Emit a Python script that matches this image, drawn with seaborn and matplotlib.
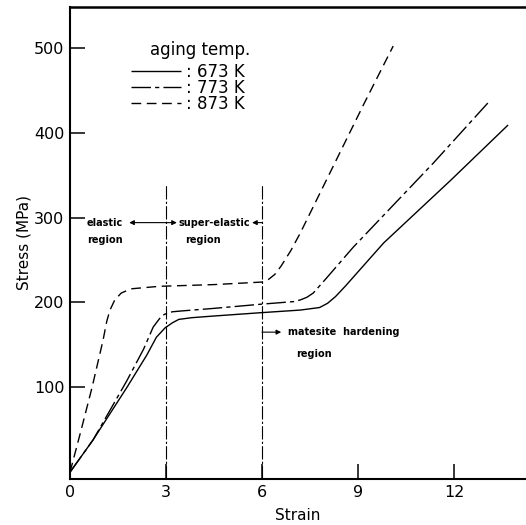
import pandas as pd
import seaborn as sns
import matplotlib.pyplot as plt
from matplotlib.lines import Line2D

# Stress-strain curves (strain %, stress MPa)
strain_673 = [0, 0.72, 1.78, 2.4, 2.7, 2.97, 3.2, 3.4, 3.8, 4.5, 6.0, 7.2, 7.8, 8.05, 8.3, 8.6, 9.8, 11.9, 13.69]
stress_673 = [0, 38, 100, 138, 159, 170, 176, 180, 182, 184, 188, 191, 194, 199, 207, 219, 270, 344, 409]

strain_773 = [0, 0.72, 1.78, 2.3, 2.6, 2.8, 2.95, 3.2, 3.5, 4.5, 6.0, 7.0, 7.2, 7.4, 7.6, 8.0, 8.85, 11.35, 13.06]
stress_773 = [0, 38, 108, 145, 171, 181, 186, 189, 190, 193, 198, 201, 203, 206, 211, 228, 265, 364, 435]

strain_873 = [0, 0.35, 0.69, 1.03, 1.15, 1.25, 1.4, 1.6, 1.9, 2.8, 4.5, 6.0, 6.2, 6.4, 6.6, 6.9, 7.2, 9.2, 10.1]
stress_873 = [0, 50, 100, 155, 178, 191, 203, 211, 216, 219, 221, 224, 227, 233, 243, 261, 282, 435, 502]

temps = ['673 K', '773 K', '873 K']
x_ticks = [0, 3, 6, 9, 12]
y_ticks = [100, 200, 300, 400, 500]
region_bounds = [3, 6]

sns.set_style("ticks")
plt.rcParams['font.family'] = ['DejaVu Sans']
plt.rcParams['text.color'] = 'black'

fig = plt.figure(figsize=(5.26, 5.25), dpi=100)
ax = fig.add_axes([70 / 526, 46 / 525, 456 / 526, 472 / 525])

styles = [(0, ()), (0, (14, 3, 3, 3)), (0, (7, 4))]
curves = [(strain_673, stress_673), (strain_773, stress_773), (strain_873, stress_873)]
for (sx, sy), ls in zip(curves, styles):
    df = pd.DataFrame({'strain': sx, 'stress': sy})
    sns.lineplot(data=df, x='strain', y='stress', ax=ax, color='black',
                 linewidth=1.0, linestyle=ls, sort=False)

# region boundaries
ax.vlines(region_bounds, -8, 340, colors='black', linestyles=(0, (12, 2, 2, 2)), linewidth=0.8)

arrow_kw = dict(arrowstyle='-|>', color='black', lw=0.8, mutation_scale=7, shrinkA=0, shrinkB=0)
ax.annotate('', xy=(1.85, 294), xytext=(3, 294), arrowprops=arrow_kw)
ax.annotate('', xy=(3.34, 294), xytext=(3, 294), arrowprops=arrow_kw)
ax.annotate('', xy=(5.69, 294), xytext=(6, 294), arrowprops=arrow_kw)
ax.annotate('', xy=(6.6, 165), xytext=(6, 165), arrowprops=arrow_kw)

txt_kw = dict(fontsize=7, fontweight='bold', va='center', color='black')
ax.text(0.53, 293, 'elastic', ha='left', **txt_kw)
ax.text(0.53, 273, 'region', ha='left', **txt_kw)
ax.text(3.38, 294, 'super-elastic', ha='left', **txt_kw)
ax.text(3.6, 273, 'region', ha='left', **txt_kw)
ax.text(6.8, 165, 'matesite  hardening', ha='left', **txt_kw)
ax.text(7.06, 139, 'region', ha='left', **txt_kw)

# legend: title as separate text, entries below
ax.text((250 - 70) / 456, 1 - 43 / 472, 'aging temp.', transform=ax.transAxes,
        ha='right', va='center', fontsize=12, color='black')
handles = [Line2D([], [], color='black', lw=1.0, linestyle=ls) for ls in styles]
leg = ax.legend(handles, [': ' + t for t in temps],
                loc='upper left', bbox_to_anchor=(0.115, 0.90), frameon=False,
                fontsize=12, handlelength=3.0, handletextpad=0.3,
                labelspacing=-0.1, borderpad=0, labelcolor='black')

ax.set_xlim(0, 14.25)
ax.set_ylim(-8, 548)
ax.set_xticks(x_ticks)
ax.set_yticks(y_ticks)
ax.tick_params(direction='in', length=11, width=1.1, labelsize=11.5, pad=4,
               colors='black')
ax.set_xlabel('Strain', fontsize=11, labelpad=6, color='black')
ax.set_ylabel('Stress (MPa)', fontsize=11, labelpad=2, color='black')
for side in ['left', 'bottom', 'top']:
    ax.spines[side].set_color('black')
    ax.spines[side].set_linewidth(1.5)
ax.spines['top'].set_linewidth(1.8)
ax.spines['right'].set_visible(False)

plt.savefig('out.png', dpi=100)
print("File successfully saved.")
